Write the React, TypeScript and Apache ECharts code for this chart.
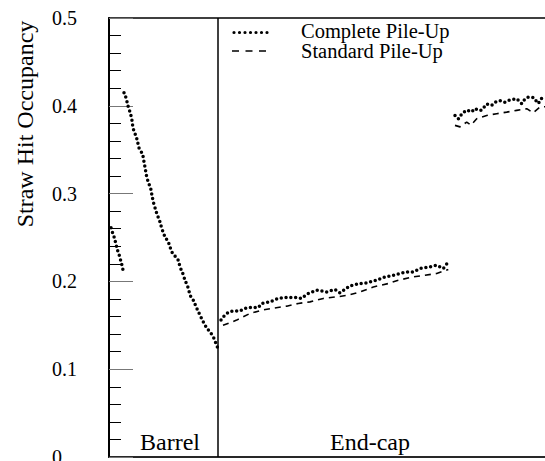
import React, { useEffect, useRef } from "react";
import * as echarts from "echarts";

// x: position along the detector (arbitrary units), y: straw hit occupancy
const barrelInnerX = [2, 3, 4, 5, 6, 7, 8, 9, 10, 11, 12, 13, 14];
const barrelInnerY = [0.261, 0.257, 0.2545, 0.251, 0.247, 0.242, 0.238, 0.2335, 0.231, 0.226, 0.223, 0.218, 0.213];

const barrelOuterX = [15, 16, 17.7, 19.3, 21, 22.7, 24, 26.7, 27.7, 30, 33.7, 35, 36, 37.7, 39.3, 41.7, 43.3, 44.3, 47.7, 51, 52.7, 56, 59.3, 62.7, 69.3, 71, 73.7, 76, 79.3, 81, 84.3, 87.7, 91, 94.3, 97.7, 101, 104.3, 108.5];
const barrelOuterY = [0.415, 0.413, 0.406, 0.3985, 0.393, 0.3857, 0.3746, 0.3663, 0.363, 0.352, 0.3447, 0.336, 0.33, 0.319, 0.313, 0.306, 0.296, 0.2904, 0.2776, 0.2677, 0.2605, 0.2506, 0.245, 0.2336, 0.224, 0.2165, 0.2093, 0.2014, 0.1923, 0.1843, 0.1786, 0.1695, 0.1615, 0.1539, 0.1468, 0.1425, 0.1369, 0.125];

const endInnerCompleteX = [112, 114.3, 117.7, 122.7, 127.7, 131, 136, 141, 149.3, 152.7, 161, 169.3, 177.7, 187.7, 192.7, 197.7, 207.7, 217.7, 226, 231, 241, 251, 257.7, 267.7, 276, 284.3, 291, 297.7, 304.3, 311, 321, 327.7, 334.3, 339.3];
const endInnerCompleteY = [0.156, 0.1596, 0.1635, 0.1661, 0.1664, 0.1664, 0.1692, 0.1703, 0.1703, 0.1749, 0.1767, 0.1806, 0.1817, 0.1817, 0.1806, 0.1854, 0.19, 0.188, 0.1908, 0.1869, 0.1949, 0.1976, 0.1983, 0.2014, 0.2051, 0.207, 0.209, 0.2108, 0.2108, 0.2147, 0.2165, 0.2184, 0.2147, 0.2222];

const endInnerStandardX = [114, 127.7, 141, 152.7, 162.7, 177.7, 189.3, 201, 214.3, 227.7, 239.3, 251, 264.3, 279.3, 289.3, 304.3, 316, 327.7, 339.3];
const endInnerStandardY = [0.15, 0.1559, 0.1635, 0.1672, 0.1692, 0.1718, 0.1749, 0.1767, 0.1806, 0.1824, 0.1843, 0.188, 0.1937, 0.1976, 0.2014, 0.2051, 0.207, 0.209, 0.2135];

const endOuterCompleteX = [346, 349.5, 353, 357.7, 362.7, 366, 369.3, 372.7, 377.7, 382.7, 386, 391, 396, 399.3, 402.7, 407.7, 412.7, 416, 419.3, 424.3, 429.3, 432.7, 436];
const endOuterCompleteY = [0.389, 0.385, 0.391, 0.395, 0.393, 0.397, 0.395, 0.395, 0.402, 0.4005, 0.404, 0.406, 0.404, 0.406, 0.407, 0.408, 0.4025, 0.408, 0.41, 0.4095, 0.4025, 0.4085, 0.41];

const endOuterStandardX = [346, 351, 357.7, 362, 367.7, 372.7, 377.7, 387.7, 397.7, 407.7, 417.7, 424, 431, 436];
const endOuterStandardY = [0.3777, 0.376, 0.3815, 0.378, 0.3853, 0.3872, 0.389, 0.391, 0.3928, 0.3948, 0.3967, 0.392, 0.3985, 0.399];

const yTicks = [0, 0.1, 0.2, 0.3, 0.4, 0.5];
const dividerX = 108.7;
const seriesNames = ["Complete Pile-Up", "Standard Pile-Up"];
const regionLabels = ["Barrel", "End-cap"];
const yTitle = "Straw Hit Occupancy";

const zip = (xs: number[], ys: number[]) => xs.map((x, i) => [x, ys[i]]);
const gap = (x: number) => [x, "-"];

export default function App() {
  const ref = useRef<HTMLDivElement>(null);
  useEffect(() => {
    if (!ref.current) return;
    const chart = echarts.init(ref.current, null, { renderer: "svg" });
    const serif = "Times New Roman, Liberation Serif, serif";

    const completeData = [
      ...zip(barrelInnerX, barrelInnerY),
      gap(14.5),
      ...zip(barrelOuterX, barrelOuterY),
      gap(110),
      ...zip(endInnerCompleteX, endInnerCompleteY),
      gap(343),
      ...zip(endOuterCompleteX, endOuterCompleteY),
    ];
    const standardData = [
      ...zip(endInnerStandardX, endInnerStandardY),
      gap(343),
      ...zip(endOuterStandardX, endOuterStandardY),
    ];

    const txt = (text: string, size: number, extra: any = {}) => ({
      text,
      fontSize: size,
      fontFamily: serif,
      fill: "#000",
      ...extra,
    });

    chart.setOption({
      animation: false,
      textStyle: { fontFamily: serif },
      grid: {
        left: 109,
        top: 18,
        right: -4,
        bottom: 4,
        show: true,
        borderColor: "#000",
        borderWidth: 1.5,
        containLabel: false,
        outerBoundsMode: "none",
      },
      xAxis: {
        type: "value",
        min: 0,
        max: 440,
        axisLine: { show: true, lineStyle: { color: "#222", width: 1.5 } },
        axisTick: { show: false },
        axisLabel: { show: false },
        splitLine: { show: false },
      },
      yAxis: {
        type: "value",
        min: yTicks[0],
        max: yTicks[yTicks.length - 1],
        interval: 0.1,
        axisLine: { show: true, lineStyle: { color: "#000", width: 2 } },
        axisTick: { show: true, inside: true, length: 24, lineStyle: { color: "#777", width: 1 } },
        minorTick: { show: true, splitNumber: 5, length: 12, lineStyle: { color: "#000", width: 1 } },
        splitLine: { show: false },
        axisLabel: {
          color: "#000",
          fontFamily: serif,
          fontSize: 20,
          align: "left",
          margin: 57,
          formatter: (v: number) => (v === 0 ? "0" : v.toFixed(1)),
        },
      },
      series: [
        {
          name: seriesNames[1],
          type: "line",
          data: standardData,
          showSymbol: false,
          symbol: "none",
          connectNulls: false,
          lineStyle: { color: "#000", width: 1.6, type: [6, 5] },
          z: 2,
        },
        {
          name: seriesNames[0],
          type: "line",
          data: completeData,
          showSymbol: false,
          symbol: "none",
          connectNulls: false,
          lineStyle: { color: "#000", width: 3.5, type: [0, 4.8], cap: "round" },
          z: 3,
          markLine: {
            silent: true,
            symbol: "none",
            label: { show: false },
            lineStyle: { color: "#000", width: 1.5, type: "solid" },
            data: [{ xAxis: dividerX }],
          },
        },
      ],
      graphic: [
        {
          type: "text",
          x: 25,
          y: 124,
          rotation: Math.PI / 2,
          style: txt(yTitle, 24, { textAlign: "center", textVerticalAlign: "middle" }),
        },
        {
          type: "text",
          x: 170,
          y: 442,
          style: txt(regionLabels[0], 24, { textAlign: "center", textVerticalAlign: "middle" }),
        },
        {
          type: "text",
          x: 370,
          y: 442,
          style: txt(regionLabels[1], 24, { textAlign: "center", textVerticalAlign: "middle" }),
        },
        {
          type: "line",
          shape: { x1: 234, y1: 32.5, x2: 270, y2: 32.5 },
          style: { stroke: "#000", lineWidth: 3.2, lineDash: [0, 5.5], lineCap: "round" },
        },
        {
          type: "line",
          shape: { x1: 232, y1: 51, x2: 271, y2: 51 },
          style: { stroke: "#000", lineWidth: 1.6, lineDash: [7, 6.5] },
        },
        {
          type: "text",
          x: 301,
          y: 31,
          style: txt(seriesNames[0], 20.5, { textAlign: "left", textVerticalAlign: "middle" }),
        },
        {
          type: "text",
          x: 301,
          y: 51,
          style: txt(seriesNames[1], 20.5, { textAlign: "left", textVerticalAlign: "middle" }),
        },
      ],
    });
    return () => chart.dispose();
  }, []);
  return <div ref={ref} style={{ position: "fixed", left: 0, top: 0, width: 545, height: 461, background: "#fff" }} />;
}
